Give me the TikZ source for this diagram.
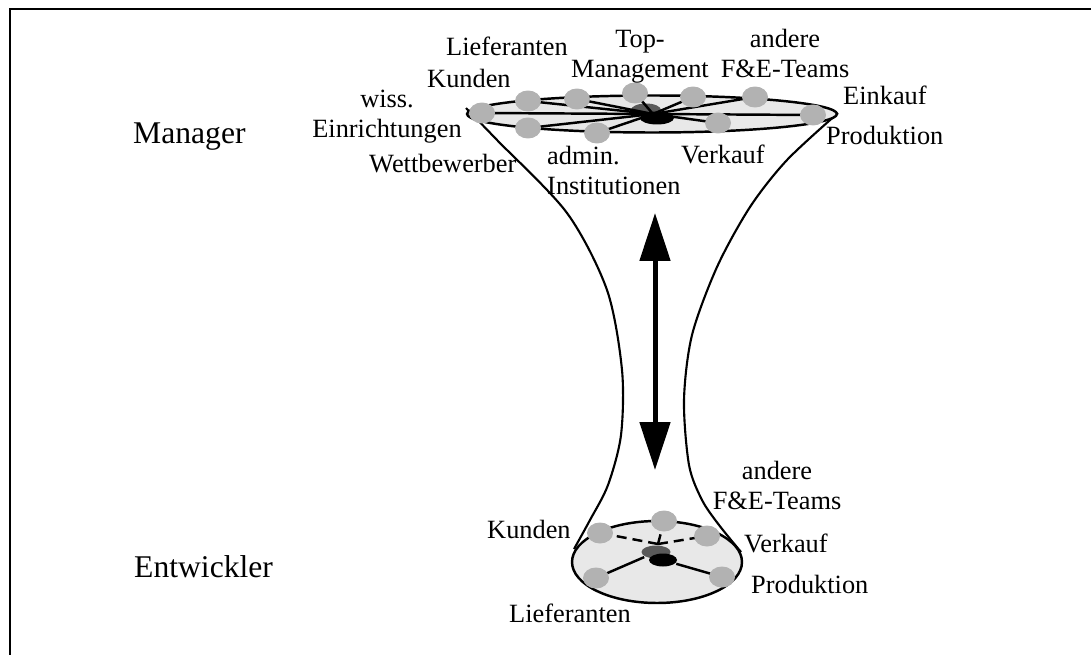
\documentclass[tikz,border=0pt]{standalone}
\usepackage{fontspec}
\setmainfont{Liberation Serif}
\usetikzlibrary{shapes.geometric,arrows.meta}
\definecolor{dotgray}{gray}{0.7}
\definecolor{discgray}{gray}{0.91}
\definecolor{hubgray}{gray}{0.35}
\begin{document}
\begin{tikzpicture}[x=0.02cm,y=-0.02cm,line width=1.4pt]
	\tikzset{dot/.style={ellipse,fill=dotgray,inner sep=0pt,minimum width=0.52cm,minimum height=0.42cm},
		hub/.style 2 args={ellipse,fill=#1,inner sep=0pt,minimum width=#2,minimum height=0.26cm},
		lbl/.style={inner sep=0pt,font=\fontsize{15}{17}\selectfont},
		lvl/.style={inner sep=0pt,font=\fontsize{18}{21}\selectfont}};
	\useasboundingbox (0,0) rectangle (1091,655);
	\draw[line width=1.7pt] (10,655) -- (10,9) -- (1091,9);
	
	\draw[line width=1.2pt] plot[smooth] coordinates {(466,108) (497,140) (567,213) (607,290) (622,370) (621,435) (608,485) (590,520) (574,549)};
	\draw[line width=1.2pt] plot[smooth] coordinates {(838,113) (787,160) (750,207) (717,267) (692,335) (684,400) (689,465) (702,500) (719,525) (741,552)};
	
	\filldraw[fill=discgray] (652,114) ellipse [x radius=3.7cm, y radius=0.37cm];
	\filldraw[fill=discgray] (657,562) ellipse [x radius=1.7cm, y radius=0.82cm];
	
	\coordinate (m1) at (482,113);
	\coordinate (m2) at (528,101);
	\coordinate (m3) at (577,99);
	\coordinate (m4) at (635,93);
	\coordinate (m5) at (693,97);
	\coordinate (m6) at (755,97);
	\coordinate (m7) at (813,115);
	\coordinate (m8) at (718,123);
	\coordinate (m9) at (597,133);
	\coordinate (m10) at (528,128);
	\coordinate (mc) at (653,114);
	
	\node[hub={hubgray}{0.6cm}] (mh1) at (646,110) {};
	\foreach \i in {1,...,10} \draw (mc) -- (m\i);
	\node[hub={black}{0.68cm}] (mh2) at (657,118) {};
	\foreach \i in {1,...,10} \node[dot] (md\i) at (m\i) {};
	
	\coordinate (e1) at (600,533);
	\coordinate (e2) at (664,521);
	\coordinate (e3) at (707,536);
	\coordinate (e4) at (596,578);
	\coordinate (e5) at (722,577);
	\coordinate (ec) at (658,544);
	
	\draw[dash pattern=on 0.2cm off 0.12cm] (ec) -- (e1);
	\draw[dash pattern=on 0.2cm off 0.12cm] (ec) -- (e2);
	\draw[dash pattern=on 0.2cm off 0.12cm] (ec) -- (e3);
	\node[hub={hubgray}{0.58cm}] (eh1) at (656,552) {};
	\node[hub={black}{0.56cm}] (eh2) at (663,560) {};
	\draw (eh1) -- (e4);
	\draw (eh2) -- (e5);
	\foreach \i in {1,...,5} \node[dot] (ed\i) at (e\i) {};
	
	\coordinate (up) at (655,213);
	\coordinate (dn) at (655,470);
	\draw[line width=0.1cm,{Triangle[length=0.96cm,width=0.6cm]}-{Triangle[length=0.96cm,width=0.6cm]}] (up) -- (dn);
	
	\node[lvl,anchor=base west] (manager) at (132,144) {Manager};
	\node[lvl,anchor=base west] (entwickler) at (133,577) {Entwickler};
	
	\node[lbl,anchor=north,align=center] (l1) at (387,89) {wiss.\\Einrichtungen};
	\node[lbl,anchor=base west] (l2) at (426,88) {Kunden};
	\node[lbl,anchor=base west] (l3) at (445,56) {Lieferanten};
	\node[lbl,anchor=north,align=center] (l4) at (640,29) {Top-\\Management};
	\node[lbl,anchor=north,align=center] (l6) at (785,28) {andere\\F\&E-Teams};
	\node[lbl,anchor=base west] (l7) at (842,105) {Einkauf};
	\node[lbl,anchor=base west] (l8) at (825,145) {Produktion};
	\node[lbl,anchor=base west] (l9) at (680,164) {Verkauf};
	\node[lbl,anchor=north west,align=left] (l10) at (546,145) {admin.\\Institutionen};
	\node[lbl,anchor=base west] (l11) at (368,173) {Wettbewerber};
	
	\node[lbl,anchor=base west] (k1) at (486,538) {Kunden};
	\node[lbl,anchor=north,align=center] (k2) at (777,460) {andere\\F\&E-Teams};
	\node[lbl,anchor=base west] (k3) at (743,552) {Verkauf};
	\node[lbl,anchor=base west] (k4) at (750,593) {Produktion};
	\node[lbl,anchor=base west] (k5) at (508,622) {Lieferanten};
\end{tikzpicture}
\end{document}
